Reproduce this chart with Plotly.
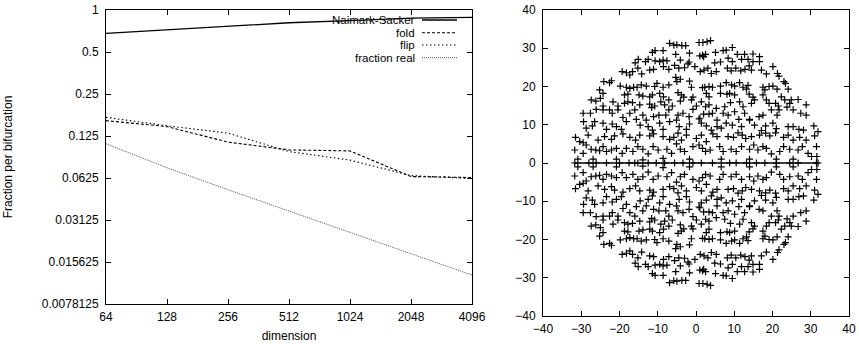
import plotly.graph_objects as go

# ---------------- left panel data ----------------
dimension = [64, 128, 256, 512, 1024, 2048, 4096]
naimark_sacker = [0.68, 0.72, 0.765, 0.81, 0.84, 0.875, 0.886]
fold = [0.161, 0.146, 0.113, 0.0994, 0.0977, 0.064, 0.063]
flip = [0.170, 0.148, 0.131, 0.0967, 0.084, 0.065, 0.062]
fraction_real = [0.110, 0.0740, 0.0515, 0.0363, 0.0256, 0.0181, 0.0126]
y_ticks_left = [0.0078125, 0.015625, 0.03125, 0.0625, 0.125, 0.25, 0.5, 1]
y_ticktext_left = ["0.0078125", "0.015625", "0.03125", "0.0625", "0.125", "0.25", "0.5", "1"]
x_ticktext_left = ["64", "128", "256", "512", "1024", "2048", "4096"]

# ---------------- right panel data (upper half-plane eigenvalues; mirrored) ----------------
upper_re = [
    -6.9, -5.8, -5.0, -3.7, -2.7, 0.8, 1.8, 2.9, 3.8, 7.1, 7.9, 9.5,
    -11.4, -10.7, -8.6, -5.3, -1.7, 1.7, 2.5, 5.1, 12.7, 14.9, 16.6,
    -15.9, -15.1, -13.2, -12.5, -10.7, -9.5, -8.6, -7.6, -4.1, -1.8, 1.0, 2.0, 4.9, 6.4, 8.4, 9.5, 10.8, 11.9, 13.6, 14.9, 16.6,
    -19.3, -18.2, -17.3, -16.6, -15.2, -14.2, -12.1, -11.1, -8.5, -7.1, -5.6, -4.5, -3.0, -2.1, -0.3, 1.1, 2.1, 3.1, 4.0, 5.3,
    8.2, 9.2, 10.4, 11.7, 12.8, 13.9, 14.5, 17.1, 18.4, 20.1, 21.3, 21.7,
    -24.1, -22.6, -22.1, -19.8, -18.2, -17.3, -16.3, -15.4, -14.3, -13.0, -10.8, -10.2, -8.6, -7.1, -5.3, -5.0, -4.1, -1.7,
    -1.2, 1.7, 2.3, 3.4, 4.3, 6.4, 7.9, 9.3, 10.1, 11.4, 12.3, 13.6, 17.5, 19.1, 20.1, 23.0, 23.4,
    -25.2, -24.3, -18.7, -17.8, -14.9, -13.9, -12.1, -11.4, -9.5, -8.5, -4.7, -3.8, -3.2, -1.2, -0.8, 2.7, 3.4, 6.4, 8.1,
    8.8, 10.1, 13.2, 13.9, 14.9, 17.5, 18.0, 21.2, 22.3, 24.1,
    -27.4, -26.2, -25.0, -24.3, -21.7, -20.4, -18.7, -17.8, -16.6, -14.7, -12.1, -11.6, -10.8, -9.2, -8.2, -7.1, -6.2, -4.1,
    -0.8, 0.1, 1.4, 2.5, 3.4, 5.3, 7.5, 9.0, 11.4, 12.3, 14.5, 15.3, 18.4, 19.1, 20.8, 21.5, 23.2, 24.9, 26.7, 24.5, 28.8,
    -29.5, -27.6, -26.1, -24.3, -22.6, -21.9, -20.4, -19.1, -17.3, -16.0, -13.9, -13.0, -11.1, -9.7, -7.9, -7.1, -4.7, -3.4,
    -1.8, 1.0, 2.0, 3.4, 4.3, 5.5, 7.1, 8.4, 10.1, 11.2, 12.7, 14.0, 16.5, 17.5, 19.7, 21.2, 21.7, 23.8, 25.4, 27.4, 28.8,
    -29.4, -28.7, -27.1, -26.5, -24.3, -23.4, -21.9, -20.8, -19.5, -18.2, -15.6, -14.6, -12.5, -11.4, -9.5, -8.6, -6.9, -5.1,
    -4.4, -2.5, -1.7, 0.8, 1.4, 2.7, 4.0, 5.5, 6.6, 7.9, 9.5, 11.9, 14.0, 15.3, 17.1, 18.2, 20.1, 21.0, 24.1, 25.4, 26.9,
    28.1, 30.8, 31.9,
    -31.5, -30.4, -29.5, -28.2, -25.6, -23.9, -22.1, -21.3, -19.1, -17.3, -15.8, -14.7, -12.1, -11.1, -8.6, -6.9, -5.8, -4.7,
    -3.8, -2.5, 0.1, 1.4, 2.7, 4.4, 5.5, 8.4, 9.8, 11.0, 12.1, 13.0, 14.5, 16.6, 18.2, 19.3, 20.8, 22.9, 24.1, 25.4, 27.1,
    28.8, 31.0,
    -31.7, -29.5, -28.7, -27.4, -26.2, -25.2, -24.3, -23.4, -22.1, -20.8, -19.3, -18.2, -16.5, -15.2, -13.9, -12.5, -11.2,
    -9.9, -7.6, -6.4, -5.1, -4.1, -3.0, -0.8, 0.8, 1.7, 2.5, 3.7, 6.2, 7.1, 9.2, 10.5, 11.9, 14.0, 15.1, 16.2, 17.5, 18.4,
    19.7, 21.9, 22.9, 24.5, 26.7, 27.8, 29.3, 31.5,
    -30.9, -26.9, -20.8, -13.9, -8.6, -1.7, 6.6, 14.0, 21.0, 25.4, 30.2, 31.6,
]
upper_im = [
    31.3, 30.8, 30.9, 30.7, 30.7, 31.5, 31.5, 31.7, 32.0, 29.4, 29.5, 30.2,
    28.9, 29.4, 29.4, 28.4, 28.7, 28.2, 28.4, 28.9, 28.4, 28.5, 27.8,
    26.2, 27.1, 26.5, 27.1, 26.7, 26.5, 26.9, 26.7, 26.9, 26.4, 28.0, 27.8, 26.2, 26.4, 27.4, 26.5, 28.4, 27.1, 27.1, 26.5, 26.5,
    23.9, 23.6, 23.0, 23.9, 24.8, 23.3, 24.3, 24.5, 25.2, 24.5, 25.5, 24.8, 24.9, 25.9, 25.2, 23.9, 24.3, 24.8, 23.4, 23.9,
    24.8, 24.1, 24.8, 24.1, 24.5, 25.4, 24.3, 24.3, 23.3, 25.2, 23.4, 22.7,
    21.3, 21.0, 21.5, 20.1, 19.8, 19.5, 19.8, 19.8, 20.4, 20.1, 20.0, 20.8, 19.8, 20.4, 22.4, 21.3, 21.9, 21.4,
    19.8, 19.7, 19.8, 20.0, 19.8, 20.1, 21.0, 20.4, 20.1, 21.0, 19.8, 20.3, 19.8, 20.0, 20.1, 21.3, 20.8,
    19.1, 18.2, 17.8, 18.0, 17.8, 17.5, 17.3, 17.8, 18.2, 17.3, 18.4, 17.8, 17.2, 16.5, 17.2, 18.2, 17.3, 18.2, 18.0,
    18.2, 17.8, 19.3, 18.0, 17.2, 17.8, 19.1, 19.3, 17.3, 19.3,
    16.5, 16.2, 16.9, 14.9, 16.0, 14.9, 15.6, 16.0, 15.8, 15.2, 15.4, 14.5, 14.9, 16.0, 15.2, 16.5, 14.9, 16.2,
    14.0, 14.9, 16.0, 14.7, 15.2, 14.3, 14.7, 15.8, 16.0, 14.7, 15.6, 16.5, 16.5, 15.6, 15.6, 14.9, 16.5, 16.5, 16.6, 15.6, 15.2,
    13.0, 13.0, 14.0, 13.9, 13.9, 13.0, 13.9, 11.9, 13.0, 13.9, 12.5, 11.2, 12.1, 12.5, 12.5, 13.9, 12.5, 13.0,
    12.1, 11.7, 12.8, 12.8, 13.0, 11.2, 13.0, 12.5, 13.4, 11.4, 13.0, 11.4, 12.1, 12.5, 13.9, 12.5, 13.9, 14.6, 13.9, 13.0, 12.5,
    10.8, 9.1, 9.7, 10.8, 10.4, 8.8, 10.2, 9.5, 8.8, 10.8, 11.4, 9.9, 9.5, 8.6, 10.4, 8.8, 10.8, 11.2,
    9.5, 8.8, 10.2, 11.5, 10.4, 9.7, 8.6, 9.5, 9.1, 10.4, 9.9, 9.5, 11.2, 9.9, 8.5, 9.7, 10.4, 9.0, 9.5, 9.5, 8.8,
    8.6, 9.7, 8.2,
    6.7, 5.6, 5.3, 7.3, 6.0, 6.9, 6.2, 7.1, 7.6, 6.7, 6.0, 7.3, 7.1, 7.6, 6.9, 6.2, 6.7, 7.8,
    6.0, 7.3, 6.4, 7.3, 5.6, 7.6, 6.9, 6.9, 6.7, 7.9, 7.3, 6.4, 6.9, 7.3, 7.8, 7.1, 7.9, 6.7, 7.3, 6.0, 6.7,
    6.0, 7.1,
    3.4, 2.5, 4.7, 3.6, 3.4, 3.2, 4.3, 3.0, 3.4, 3.8, 2.5, 3.8, 3.0, 4.3, 3.6, 2.4, 4.3,
    3.4, 3.6, 2.5, 5.0, 3.6, 3.0, 4.3, 4.7, 3.8, 3.0, 3.4, 4.3, 3.0, 3.6, 3.0, 4.3, 3.6, 4.7, 3.4, 4.3, 3.8,
    2.4, 3.0, 4.3, 3.6, 3.4, 4.3, 2.5, 4.3,
    1.0, 1.0, 1.0, 0.8, 1.2, 1.0, 1.0, 1.0, 1.0, 1.0, 1.7, 1.7,
]
real_eigs = [-31.7, -28.0, -26.1, -23.4, -20.0, -17.5, -16.0, -15.2, -12.5, -10.4, -8.2, -5.6, -3.4,
             -0.8, 1.4, 4.3, 8.8, 10.5, 13.2, 15.8, 18.0, 21.0, 24.5, 26.7, 31.5, 31.9]
xy_ticks_right = [-40, -30, -20, -10, 0, 10, 20, 30, 40]

eig_re = upper_re + upper_re
eig_im = upper_im + [-v for v in upper_im]
real_sorted = sorted(real_eigs)

W, H = 859, 344
FONT = "Liberation Sans, Arial, Helvetica, sans-serif"
FS = 12

fig = go.Figure()

fig.add_trace(go.Scatter(x=dimension, y=naimark_sacker, mode="lines", name="Naimark-Sacker",
                         line=dict(color="black", width=1.3), xaxis="x", yaxis="y"))
fig.add_trace(go.Scatter(x=dimension, y=fold, mode="lines", name="fold",
                         line=dict(color="black", width=1.1, dash="3px,2px"), xaxis="x", yaxis="y"))
fig.add_trace(go.Scatter(x=dimension, y=flip, mode="lines", name="flip",
                         line=dict(color="black", width=1.1, dash="1.5px,2.5px"), xaxis="x", yaxis="y"))
fig.add_trace(go.Scatter(x=dimension, y=fraction_real, mode="lines", name="fraction real",
                         line=dict(color="#555555", width=1, dash="1px,1px"), xaxis="x", yaxis="y"))

MK = dict(symbol="cross-thin", size=5, line=dict(color="black", width=1.2))
fig.add_trace(go.Scatter(x=eig_re, y=eig_im, mode="markers", marker=MK,
                         xaxis="x2", yaxis="y2", showlegend=False))
fig.add_trace(go.Scatter(x=real_sorted, y=[0] * len(real_sorted), mode="lines+markers",
                         line=dict(color="black", width=1.3), marker=MK,
                         xaxis="x2", yaxis="y2", showlegend=False))

def px(x):
    return x / W

def py(y):
    return 1 - y / H

axis_common = dict(showgrid=False, zeroline=False, showline=True, linecolor="black", linewidth=1,
                   mirror="ticks", ticks="inside", ticklen=5, tickcolor="black", tickwidth=1,
                   automargin=False,
                   tickfont=dict(family=FONT, size=FS, color="black"))

fig.update_layout(
    width=W, height=H, margin=dict(l=0, r=0, t=0, b=0),
    paper_bgcolor="white", plot_bgcolor="white", showlegend=False,
    font=dict(family=FONT, size=FS, color="black"),
    xaxis=dict(type="log", domain=[px(106), px(472)], anchor="y",
               range=[1.80618, 3.61236], tickvals=dimension, ticktext=x_ticktext_left,
               ticklabelstandoff=2,
               title=dict(text="dimension", font=dict(family=FONT, size=FS), standoff=8),
               **axis_common),
    yaxis=dict(type="log", domain=[py(304), py(10)], anchor="x",
               range=[-2.10721, 0], tickvals=y_ticks_left, ticktext=y_ticktext_left,
               ticklabelstandoff=4,
               title=dict(text="Fraction per bifurcation", font=dict(family=FONT, size=FS), standoff=26),
               **axis_common),
    xaxis2=dict(domain=[px(543), px(849)], anchor="y2", range=[-40, 40], tickvals=xy_ticks_right,
                ticklabelstandoff=2, **axis_common),
    yaxis2=dict(domain=[py(316), py(10)], anchor="x2", range=[-40, 40], tickvals=xy_ticks_right,
                ticklabelstandoff=4, **axis_common),
)

# legend (gnuplot style: label right-aligned, sample to the right)
legend_items = [
    ("Naimark-Sacker", 20, dict(color="black", width=1.3)),
    ("fold", 32.7, dict(color="black", width=1.1, dash="3px,2px")),
    ("flip", 45, dict(color="black", width=1.1, dash="1.5px,2.5px")),
    ("fraction real", 57.7, dict(color="#555555", width=1, dash="1px,1px")),
]
for label, yy, ln in legend_items:
    fig.add_annotation(x=px(416), y=py(yy), xref="paper", yref="paper", text=label, showarrow=False,
                       xanchor="right", yanchor="middle", borderpad=0,
                       font=dict(family=FONT, size=11.5, color="black"))
    fig.add_shape(type="line", xref="paper", yref="paper", x0=px(422), x1=px(457), y0=py(yy), y1=py(yy),
                  line=ln)

fig.write_html("out.html", config={"displayModeBar": False},
               post_script="document.body.style.margin='0';")
